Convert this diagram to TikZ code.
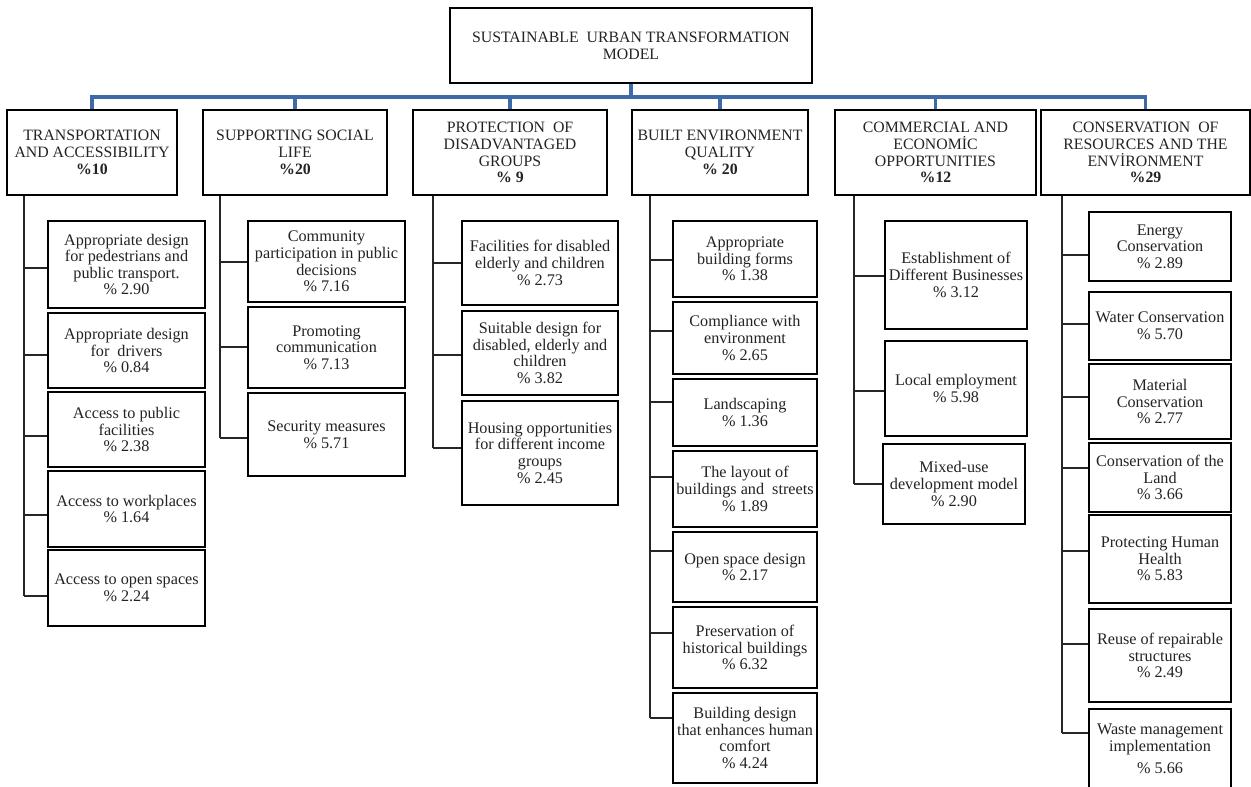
\documentclass[tikz,border=0pt]{standalone}
\usepackage{fontspec}
\setmainfont{Liberation Serif}
\definecolor{bluel}{RGB}{62,106,168}
\definecolor{txt}{RGB}{35,35,35}
\tikzset{
  box/.style={draw=black, line width=1.3pt, align=center, inner sep=0pt, text=txt},
  hd/.style={box, font=\fontsize{15.8}{16.8}\selectfont},
  sub/.style={box, font=\fontsize{16.2}{16.6}\selectfont},
  blueline/.style={draw=bluel, line width=3.1pt},
  conn/.style={draw=black!85, line width=1.4pt}
}
\newcommand\branch[3]{\draw[conn] (#1 |- 0,#3) -- (#2.west |- 0,#3);}
\begin{document}
\begin{tikzpicture}[x=1pt,y=-1pt]
\clip (0,0) rectangle (1251,787);
\fill[white] (0,0) rectangle (1251,787);

% title
\node[hd, minimum width=362pt, minimum height=75pt] (top) at (631,45.5)
  {SUSTAINABLE\ \ URBAN TRANSFORMATION\\MODEL};

% headers
\node[hd, minimum width=170pt, minimum height=85pt] (h1) at (92,152.5)
  {TRANSPORTATION\\AND ACCESSIBILITY\\\textbf{\%10}};
\node[hd, minimum width=184pt, minimum height=85pt] (h2) at (295,152.5)
  {SUPPORTING SOCIAL\\LIFE\\\textbf{\%20}};
\node[hd, minimum width=194pt, minimum height=85pt] (h3) at (510,152.5)
  {PROTECTION\ \ OF\\DISADVANTAGED\\GROUPS\\\textbf{\% 9}};
\node[hd, minimum width=176pt, minimum height=85pt] (h4) at (720,152.5)
  {BUILT ENVIRONMENT\\QUALITY\\\textbf{\% 20}};
\node[hd, minimum width=201pt, minimum height=85pt] (h5) at (935.5,152.5)
  {COMMERCIAL AND\\ECONOMİC\\OPPORTUNITIES\\\textbf{\%12}};
\node[hd, minimum width=209pt, minimum height=85pt] (h6) at (1145.5,152.5)
  {CONSERVATION\ \ OF\\RESOURCES AND THE\\ENVİRONMENT\\\textbf{\%29}};

% blue tree
\coordinate (bus) at (631,97);
\draw[blueline] (top.south) -- (bus);
\draw[blueline, line cap=rect] (h1.north |- bus) -- (h6.north |- bus);
\foreach \h in {h1,h2,h3,h4,h5,h6} \draw[blueline] (\h.north |- bus) -- (\h.north);

% column 1
\node[sub, minimum width=157pt, minimum height=87pt] (s1a) at (126.5,264.5)
  {Appropriate design\\for pedestrians and\\public transport.\\\% 2.90};
\node[sub, minimum width=157pt, minimum height=75pt] (s1b) at (126.5,350.5)
  {Appropriate design\\for\ \ drivers\\\% 0.84};
\node[sub, minimum width=157pt, minimum height=75pt] (s1c) at (126.5,429.5)
  {Access to public\\facilities\\\% 2.38};
\node[sub, minimum width=157pt, minimum height=76pt] (s1d) at (126.5,509)
  {Access to workplaces\\\% 1.64};
\node[sub, minimum width=157pt, minimum height=76pt] (s1e) at (126.5,588)
  {Access to open spaces\\\% 2.24};
\coordinate (T1) at (h1.south -| 24,0);
\draw[conn] (T1) -- (T1 |- 0,596);
\branch{T1}{s1a}{268}\branch{T1}{s1b}{355}\branch{T1}{s1c}{436}
\branch{T1}{s1d}{515}\branch{T1}{s1e}{596}

% column 2
\node[sub, minimum width=157pt, minimum height=81pt] (s2a) at (326.5,261.5)
  {Community\\participation in public\\decisions\\\% 7.16};
\node[sub, minimum width=157pt, minimum height=81pt] (s2b) at (326.5,347.5)
  {Promoting\\communication\\\% 7.13};
\node[sub, minimum width=157pt, minimum height=83pt] (s2c) at (326.5,434.5)
  {Security measures\\\% 5.71};
\coordinate (T2) at (h2.south -| 220,0);
\draw[conn] (T2) -- (T2 |- 0,438);
\branch{T2}{s2a}{262}\branch{T2}{s2b}{347}\branch{T2}{s2c}{438}

% column 3
\node[sub, minimum width=156pt, minimum height=84pt] (s3a) at (540,263)
  {Facilities for disabled\\elderly and children\\\% 2.73};
\node[sub, minimum width=156pt, minimum height=84pt] (s3b) at (540,353)
  {Suitable design for\\disabled, elderly and\\children\\\% 3.82};
\node[sub, minimum width=156pt, minimum height=104pt] (s3c) at (540,453)
  {Housing opportunities\\for different income\\groups\\\% 2.45};
\coordinate (T3) at (h3.south -| 433,0);
\draw[conn] (T3) -- (T3 |- 0,448);
\branch{T3}{s3a}{263}\branch{T3}{s3b}{355}\branch{T3}{s3c}{448}

% column 4
\node[sub, minimum width=144pt, minimum height=76pt] (s4a) at (745,259)
  {Appropriate\\building forms\\\% 1.38};
\node[sub, minimum width=144pt, minimum height=72pt] (s4b) at (745,338)
  {Compliance with\\environment\\\% 2.65};
\node[sub, minimum width=144pt, minimum height=67pt] (s4c) at (745,412.5)
  {Landscaping\\\% 1.36};
\node[sub, minimum width=144pt, minimum height=76pt] (s4d) at (745,489)
  {The layout of\\buildings and\ \ streets\\\% 1.89};
\node[sub, minimum width=144pt, minimum height=70pt] (s4e) at (745,567)
  {Open space design\\\% 2.17};
\node[sub, minimum width=144pt, minimum height=81pt] (s4f) at (745,647.5)
  {Preservation of\\historical buildings\\\% 6.32};
\node[sub, minimum width=144pt, minimum height=90pt] (s4g) at (745,738)
  {Building design\\that enhances human\\comfort\\\% 4.24};
\coordinate (T4) at (h4.south -| 650,0);
\draw[conn] (T4) -- (T4 |- 0,718);
\branch{T4}{s4a}{260}\branch{T4}{s4b}{331}\branch{T4}{s4c}{402}
\branch{T4}{s4d}{477}\branch{T4}{s4e}{551}\branch{T4}{s4f}{633}
\branch{T4}{s4g}{718}

% column 5
\node[sub, minimum width=142pt, minimum height=108pt] (s5a) at (956,275)
  {Establishment of\\Different Businesses\\\% 3.12};
\node[sub, minimum width=142pt, minimum height=95pt] (s5b) at (956,388.5)
  {Local employment\\\% 5.98};
\node[sub, minimum width=142pt, minimum height=80pt] (s5c) at (954,484)
  {Mixed-use\\development model\\\% 2.90};
\coordinate (T5) at (h5.south -| 854,0);
\draw[conn] (T5) -- (T5 |- 0,484);
\branch{T5}{s5a}{276}\branch{T5}{s5b}{391}\branch{T5}{s5c}{484}

% column 6
\node[sub, minimum width=142pt, minimum height=69pt] (s6a) at (1160,246.5)
  {Energy\\Conservation\\\% 2.89};
\node[sub, minimum width=142pt, minimum height=68pt] (s6b) at (1160,326)
  {Water Conservation\\\% 5.70};
\node[sub, minimum width=142pt, minimum height=75pt] (s6c) at (1160,401.5)
  {Material\\Conservation\\\% 2.77};
\node[sub, minimum width=142pt, minimum height=69pt] (s6d) at (1160,477.5)
  {Conservation of the\\Land\\\% 3.66};
\node[sub, minimum width=142pt, minimum height=88pt] (s6e) at (1160,559)
  {Protecting Human\\Health\\\% 5.83};
\node[sub, minimum width=142pt, minimum height=93pt] (s6f) at (1160,655.5)
  {Reuse of repairable\\structures\\\% 2.49};
\node[sub, minimum width=142pt, minimum height=80pt] (s6g) at (1160,749)
  {Waste management\\implementation\\[6pt]\% 5.66};
\coordinate (T6) at (h6.south -| 1062,0);
\draw[conn] (T6) -- (T6 |- 0,733);
\branch{T6}{s6a}{255}\branch{T6}{s6b}{324}\branch{T6}{s6c}{397}
\branch{T6}{s6d}{468}\branch{T6}{s6e}{551}\branch{T6}{s6f}{644}
\branch{T6}{s6g}{733}
\end{tikzpicture}
\end{document}
